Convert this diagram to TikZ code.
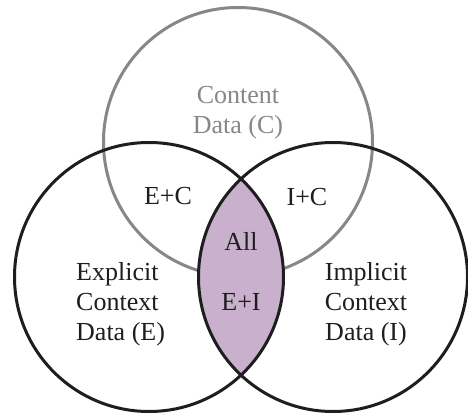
\documentclass[tikz,border=0pt]{standalone}
\usepackage{fontspec}
\setmainfont{Liberation Serif}
\definecolor{lensfill}{RGB}{201,176,205}
\definecolor{cgray}{RGB}{135,135,135}
\definecolor{cblack}{RGB}{30,30,30}
\tikzset{
  lbl/.style={font=\fontsize{26}{30}\selectfont, text=cblack, inner sep=0pt},
  graylbl/.style={lbl, text=cgray},
  blackring/.style={draw=cblack, line width=3pt},
  grayring/.style={draw=cgray, line width=3pt}
}
\begin{document}
\begin{tikzpicture}[x=1pt,y=-1pt]
\useasboundingbox (0,0) rectangle (468,414);
\fill[white] (0,0) rectangle (468,414);
\coordinate (cC) at (238,142);
\coordinate (cE) at (149,277);
\coordinate (cI) at (333,277);
\def\rr{134.5}
% content circle
\draw[grayring] (cC) circle[radius=\rr];
% lens
\begin{scope}
  \clip (cE) circle[radius=\rr];
  \fill[lensfill] (cI) circle[radius=\rr];
\end{scope}
\draw[blackring] (cE) circle[radius=\rr];
\draw[blackring] (cI) circle[radius=\rr];
% labels
\node[graylbl, align=center] (tC) at (238,113) {Content\\Data (C)};
\node[lbl] (tEC) at (168,196) {E+C};
\node[lbl] (tIC) at (307,197) {I+C};
\node[lbl] (tAll) at (241,241) {All};
\node[lbl] (tEI) at (241,302) {E+I};
\node[lbl, align=left, anchor=west] (tE) at (76,304) {Explicit\\Context\\Data (E)};
\node[lbl, align=center] (tI) at (366,304) {Implicit\\Context\\Data (I)};
\end{tikzpicture}
\end{document}
